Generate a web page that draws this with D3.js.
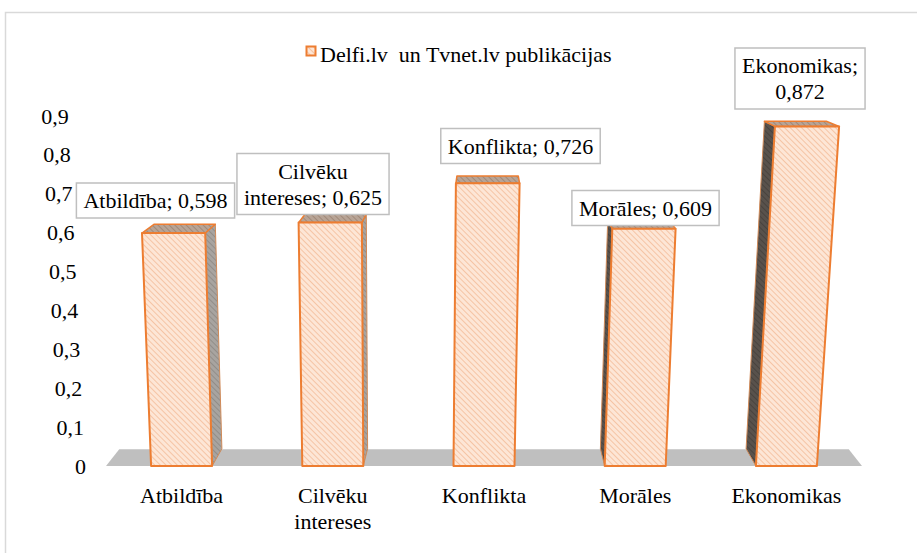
<!DOCTYPE html>
<html>
<head>
<meta charset="utf-8">
<script src="https://cdn.jsdelivr.net/npm/d3@7"></script>
<style>
  body { margin: 0; background: #fff; }
</style>
</head>
<body>
<svg id="chart" width="917" height="553"></svg>
<script>
// data
var categories = ["Atbildība", "Cilvēku intereses", "Konflikta", "Morāles", "Ekonomikas"];
var values = [0.598, 0.625, 0.726, 0.609, 0.872];
var catLines = [["Atbildība"], ["Cilvēku", "intereses"], ["Konflikta"], ["Morāles"], ["Ekonomikas"]];
var labelLines = [["Atbildība; 0,598"], ["Cilvēku", "intereses; 0,625"], ["Konflikta; 0,726"], ["Morāles; 0,609"], ["Ekonomikas;", "0,872"]];
var yTicks = [0, 0.1, 0.2, 0.3, 0.4, 0.5, 0.6, 0.7, 0.8, 0.9];
var seriesName = "Delfi.lv  un Tvnet.lv publikācijas";

var svg = d3.select("#chart");
var FONT = "Times New Roman, Liberation Serif, DejaVu Serif, serif";
var FS = "22px";
var fmt = function(v) { return String(+v.toFixed(1)).replace(".", ","); };

// frame
svg.append("rect").attr("x", 5.5).attr("y", 12.5).attr("width", 930).attr("height", 560)
  .attr("fill", "none").attr("stroke", "#d9d9d9").attr("stroke-width", 1.5);

// scales
var x = d3.scaleBand().domain(categories).range([106, 862]).paddingInner(0).paddingOuter(0);
var y = d3.scaleLinear().domain([0, 0.9]).range([466, 115.5]);
var barW = 61;

// fake 3d: depth goes toward (VX,VY), verticals fan out from SX
var VX = 484, VY = -15, SX = 400, K = 1.57e-4, y0 = y(0);
function spread(px, py) { return [px + K * (px - SX) * (y0 - py), py]; }
function back(p, f) { return [p[0] + f * (VX - p[0]), p[1] + f * (VY - p[1])]; }

// patterns
var defs = svg.append("defs");
function hatch(id, bg, fg, sw) {
  var p = defs.append("pattern").attr("id", id).attr("patternUnits", "userSpaceOnUse")
    .attr("width", 4).attr("height", 4).attr("patternTransform", "rotate(-45)");
  p.append("rect").attr("width", 4).attr("height", 4).attr("fill", bg);
  p.append("line").attr("x1", 0).attr("y1", 0).attr("x2", 0).attr("y2", 4)
    .attr("stroke", fg).attr("stroke-width", sw);
}
hatch("hFront", "#fde6d6", "#f2b28a", 1.3);
hatch("hTop", "#b8a496", "#937a69", 1.3);
hatch("hSideR", "#a8a4a0", "#86807b", 1.3);
hatch("hSideL", "#59524c", "#403a36", 1.3);

// floor
var fl = [[x.range()[0], y0], [x.range()[1], y0]];
var floorPts = [fl[0], fl[1], back(fl[1], 0.035), back(fl[0], 0.035)];
svg.append("polygon").attr("points", floorPts.map(function(p) { return p.join(","); }).join(" "))
  .attr("fill", "#bfbfbf");

// y tick labels
svg.append("g").selectAll("text").data(yTicks).enter().append("text")
  .attr("x", function(d) { return spread(86, y(d))[0]; })
  .attr("y", function(d) { return y(d) + 8; })
  .attr("text-anchor", "end")
  .style("font-family", FONT).style("font-size", FS)
  .text(function(d) { return fmt(d); });

// bars
var line = function(pts) { return pts.map(function(p) { return p[0].toFixed(1) + "," + p[1].toFixed(1); }).join(" "); };
var bars = svg.append("g");
categories.forEach(function(c, i) {
  var cx = x(c) + x.bandwidth() / 2;
  var xl = cx - barW / 2, xr = cx + barW / 2, yt = y(values[i]);
  var A = spread(xl, y0), B = spread(xr, y0), C = spread(xr, yt), D = spread(xl, yt);
  var f = 0.036;
  var g = bars.append("g");
  if (C[0] < VX - 10) {
    g.append("polygon").attr("points", line([B, C, back(C, f), back(B, f)]))
      .attr("fill", "url(#hSideR)").attr("stroke", "#d08a58").attr("stroke-width", 1);
  } else if (D[0] > VX + 10) {
    g.append("polygon").attr("points", line([A, D, back(D, f), back(A, f)]))
      .attr("fill", "url(#hSideL)").attr("stroke", "#d08a58").attr("stroke-width", 1);
  }
  g.append("polygon").attr("points", line([D, C, back(C, f), back(D, f)]))
    .attr("fill", "url(#hTop)").attr("stroke", "#ed7d31").attr("stroke-width", 1.5)
    .attr("stroke-linejoin", "round");
  g.append("polygon").attr("points", line([A, B, C, D]))
    .attr("fill", "url(#hFront)").attr("stroke", "#ed7d31").attr("stroke-width", 2)
    .attr("stroke-linejoin", "round");
});

// category labels
categories.forEach(function(c, i) {
  var cx = x(c) + x.bandwidth() / 2;
  var t = svg.append("text").attr("text-anchor", "middle")
    .style("font-family", FONT).style("font-size", FS);
  catLines[i].forEach(function(s, k) {
    t.append("tspan").attr("x", cx).attr("y", 503 + k * 26).text(s);
  });
});

// data labels (boxed)
var lblPos = [[155.5, 200.5], [313, 184], [520.5, 146], [645.5, 208], [800, 78.5]];
categories.forEach(function(c, i) {
  var g = svg.append("g");
  var lines = labelLines[i];
  var t = g.append("text").attr("text-anchor", "middle")
    .style("font-family", FONT).style("font-size", FS);
  var lh = 26, hgt = lines.length * lh + 9, top = lblPos[i][1] - hgt / 2;
  lines.forEach(function(s, k) {
    t.append("tspan").attr("x", lblPos[i][0]).attr("y", top + 25 + k * lh).text(s);
  });
  var bb = t.node().getBBox();
  g.insert("rect", "text").attr("x", bb.x - 7).attr("y", top)
    .attr("width", bb.width + 14).attr("height", hgt)
    .attr("fill", "#fff").attr("stroke", "#bfbfbf").attr("stroke-width", 1.5);
});

// legend
var lg = svg.append("g");
lg.append("rect").attr("x", 306.5).attr("y", 46.5).attr("width", 9).attr("height", 9)
  .attr("fill", "url(#hFront)").attr("stroke", "#ed7d31").attr("stroke-width", 2);
lg.append("text").attr("x", 320).attr("y", 62)
  .style("font-family", FONT).style("font-size", FS)
  .attr("xml:space", "preserve").style("white-space", "pre").text(seriesName);
</script>
</body>
</html>
